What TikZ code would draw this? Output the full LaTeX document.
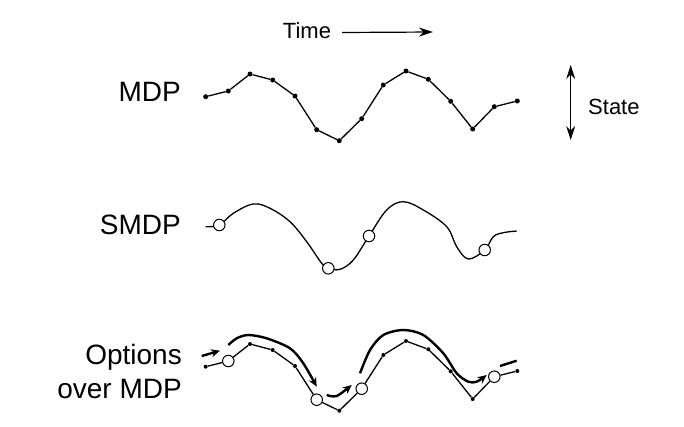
\documentclass[tikz,border=0pt]{standalone}
\usepackage{fontspec}
\setmainfont{Liberation Sans}
\usetikzlibrary{arrows.meta}

\begin{document}
\begin{tikzpicture}[x=1pt,y=-1pt]
	\tikzstyle{dot} = [circle, minimum width=5pt, fill, inner sep=0pt];
	\tikzstyle{dotsmall} = [circle, minimum width=4pt, fill, inner sep=0pt];
	\tikzstyle{circ} = [circle, minimum width=11.5pt, draw, fill=white, line width=1pt, inner sep=0pt];
	\tikzstyle{rowlabel} = [anchor=east, inner sep=0pt, align=right, font=\fontsize{28}{34}\selectfont];
	\tikzstyle{axislabel} = [inner sep=0pt, font=\fontsize{22}{26}\selectfont];
	\tikzstyle{trail} = [line width=1.3pt];
	\tikzstyle{option} = [line width=2.4pt, -{Stealth[length=9pt,width=8pt]}];
	\tikzstyle{axis} = [line width=1.2pt];
	
	\useasboundingbox (0,0) rectangle (684,426);
	
	% labels
	\node[rowlabel] (mdp) at (181,92) {MDP};
	\node[rowlabel] (smdp) at (181,225) {SMDP};
	\node[rowlabel] (opt) at (182,371) {Options\\over MDP};
	
	\node[axislabel] (time) at (307,31) {Time};
	\coordinate (timeend) at (433,32);
	\draw[axis, -{Stealth[length=14pt,width=9pt]}] ([xshift=11pt,yshift=-1.5pt]time.east) -- (timeend);
	
	\coordinate (statetop) at (570.7,65);
	\coordinate (statebot) at (570.7,140);
	\draw[axis, {Stealth[length=14pt,width=9pt]}-{Stealth[length=14pt,width=9pt]}] (statetop) -- (statebot);
	\node[axislabel, anchor=west] (state) at (588,106.5) {State};
	
	% MDP and options over MDP
	\foreach \i/\x/\y/\s in {0/205.7/96.7/dotsmall, 1/228.3/91/circ, 2/250/74/dotsmall,
		3/272.7/80/dotsmall, 4/295/96/dotsmall, 5/316.7/129.7/circ, 6/339.3/140.7/dotsmall,
		7/361.7/118.7/circ, 8/383.3/85/dotsmall, 9/406/71/dotsmall, 10/428.3/79.3/dotsmall,
		11/450.7/101.3/dotsmall, 12/472.7/129/dotsmall, 13/494.3/106.7/circ, 14/517.3/101/dotsmall} {
		\node[dot] (m\i) at (\x,\y) {};
		\node[\s] (o\i) at (\x,\y+270) {};
	}
	\foreach \i [evaluate=\i as \j using int(\i+1)] in {0,...,13} {
		\draw[trail] (m\i) -- (m\j);
		\draw[trail] (o\i) -- (o\j);
	}
	
	% SMDP
	\draw[trail] plot[smooth, tension=0.6] coordinates {(205.7,226.7) (219.3,225) (233.3,213.3)
		(253.3,204) (270,208.3) (290,221.7) (306.7,241.7) (321.7,263.3) (328.3,268.3)
		(340,269.3) (353.3,260) (369,236) (386.7,210) (403.3,201.7) (423.3,210)
		(446.7,226.7) (456.7,246.7) (468.3,259) (484.7,250) (493.3,236.7) (503.3,232.7) (516.7,231)};
	\node[circ] (s1) at (219.3,225) {};
	\node[circ] (s2) at (328.3,268.3) {};
	\node[circ] (s3) at (369,236) {};
	\node[circ] (s4) at (484.7,250) {};
	
	% options
	\coordinate (a1s) at (201.7,356);
	\coordinate (a1e) at (220,350.7);
	\draw[option] (a1s) -- (a1e);
	\draw[option] plot[smooth] coordinates {(228.3,345) (236.7,338.3) (248.3,335) (266.7,338.3)
		(290,348.3) (303.3,363.3) (316.7,386.7)};
	\draw[option] plot[smooth] coordinates {(326.7,395) (336.7,396) (351.7,385)};
	\draw[option] plot[smooth] coordinates {(360,373.3) (370,350) (383.3,335) (403.3,330)
		(423.3,335) (443.3,353.3) (456.7,373.3) (468.3,381.7) (476.7,381.7) (486.7,375)};
	\coordinate (a5s) at (500,366);
	\coordinate (a5e) at (516.7,360.7);
	\draw[line width=2.4pt] (a5s) -- (a5e);
\end{tikzpicture}
\end{document}
